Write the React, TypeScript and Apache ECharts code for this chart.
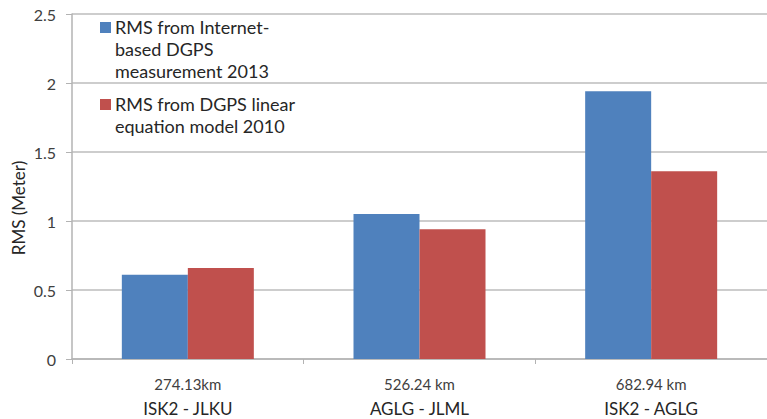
import React, { useEffect, useRef } from "react";
import * as echarts from "echarts";

// Baselines (distance) and station pairs for each category
const distances = ["274.13km", "526.24 km", "682.94 km"];
const stationPairs = ["ISK2 - JLKU", "AGLG - JLML", "ISK2 - AGLG"];

// RMS values in metres
const internetDgps2013 = [0.61, 1.05, 1.94];
const linearModel2010 = [0.66, 0.94, 1.36];

const seriesNames = [
  "RMS from Internet-\nbased DGPS\nmeasurement 2013",
  "RMS from DGPS linear\nequation model 2010",
];

const yTicks = { min: 0, max: 2.5, interval: 0.5 };

const BLUE = "#4F81BD";
const RED = "#C0504D";
const FONT = "Lato, 'Open Sans', sans-serif";

export default function App() {
  const ref = useRef<HTMLDivElement>(null);

  useEffect(() => {
    if (!ref.current) return;
    const chart = echarts.init(ref.current, undefined, { renderer: "svg" });
    const categories = distances.map((d, i) => `${d}\n${stationPairs[i]}`);

    chart.setOption({
      animation: false,
      backgroundColor: "#ffffff",
      grid: { left: 72, right: -7, top: 14, bottom: 60 },
      xAxis: {
        type: "category",
        data: categories,
        axisLine: { show: true, lineStyle: { color: "#B3B3B3", width: 1.5 } },
        axisTick: {
          show: true,
          alignWithLabel: false,
          length: 5,
          lineStyle: { color: "#B3B3B3" },
        },
        axisLabel: {
          margin: 12,
          interval: 0,
          formatter: (v: string) => {
            const [a, b] = v.split("\n");
            return `{d|${a}}\n{p|${b}}`;
          },
          rich: {
            d: { fontFamily: FONT, fontSize: 15, color: "#404040", lineHeight: 25 },
            p: { fontFamily: FONT, fontSize: 17, color: "#262626", lineHeight: 25 },
          },
        },
      },
      yAxis: {
        type: "value",
        min: yTicks.min,
        max: yTicks.max,
        interval: yTicks.interval,
        axisLine: { show: true, lineStyle: { color: "#B3B3B3", width: 1.5 } },
        axisTick: { show: true, length: 6, lineStyle: { color: "#B3B3B3" } },
        splitLine: { show: true, lineStyle: { color: "#BDBDBD", width: 1.5 } },
        axisLabel: {
          margin: 16,
          fontFamily: FONT,
          fontSize: 16,
          color: "#404040",
          formatter: (v: number) => String(v),
        },
      },
      series: [
        {
          name: seriesNames[0],
          type: "bar",
          data: internetDgps2013,
          barWidth: 66,
          barGap: "0%",
          itemStyle: { color: BLUE },
        },
        {
          name: seriesNames[1],
          type: "bar",
          data: linearModel2010,
          barWidth: 66,
          barGap: "0%",
          itemStyle: { color: RED },
        },
      ],
      graphic: [
        {
          type: "text",
          x: 18,
          y: 208,
          rotation: Math.PI / 2,
          style: {
            text: "RMS (Meter)",
            fontFamily: FONT,
            fontSize: 17,
            fill: "#262626",
            align: "center",
            verticalAlign: "middle",
          },
        },
        {
          type: "rect",
          shape: { x: 100, y: 22, width: 11, height: 11 },
          style: { fill: BLUE },
        },
        {
          type: "text",
          x: 115,
          y: 16,
          style: {
            text: seriesNames[0],
            fontFamily: FONT,
            fontSize: 18,
            lineHeight: 22,
            fill: "#262626",
          },
        },
        {
          type: "rect",
          shape: { x: 100, y: 99, width: 11, height: 11 },
          style: { fill: RED },
        },
        {
          type: "text",
          x: 115,
          y: 93,
          style: {
            text: seriesNames[1],
            fontFamily: FONT,
            fontSize: 18,
            lineHeight: 22,
            fill: "#262626",
          },
        },
      ],
    });

    return () => chart.dispose();
  }, []);

  return (
    <div
      ref={ref}
      style={{ position: "fixed", left: 0, top: 0, width: 767, height: 419 }}
    />
  );
}
